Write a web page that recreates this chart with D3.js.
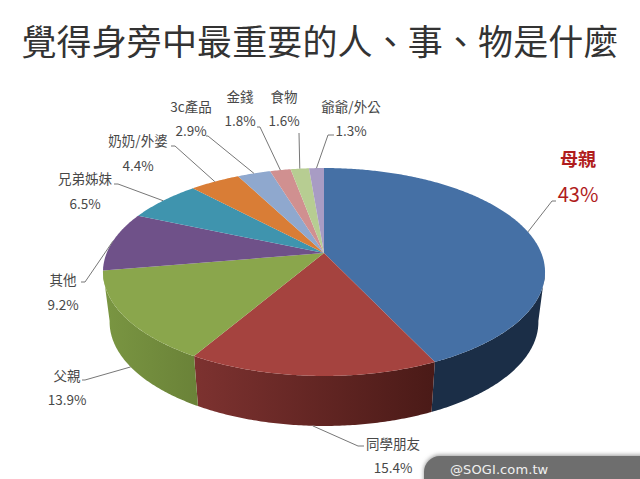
<!DOCTYPE html>
<html><head><meta charset="utf-8">
<script src="https://cdn.jsdelivr.net/npm/d3@7/dist/d3.min.js"></script>
<style>html,body{margin:0;padding:0;background:#fff;overflow:hidden}svg{display:block}
text{font-family:"Noto Sans CJK TC","Noto Sans",sans-serif}</style></head><body>
<svg id="c" width="640" height="479"></svg>
<script>
const titleText = "覺得身旁中最重要的人、事、物是什麼";
const categories = ["母親","同學朋友","父親","其他","兄弟姊妹","奶奶/外婆","3c產品","金錢","食物","爺爺/外公"];
const values = [43,15.4,13.9,9.2,6.5,4.4,2.9,1.8,1.6,1.3];
const valueLabels = ["43%","15.4%","13.9%","9.2%","6.5%","4.4%","2.9%","1.8%","1.6%","1.3%"];
const topColors = ["#4570a5","#a5433f","#8aa64c","#6f5189","#3f94ae","#d97d36","#8fa8ce","#d09090","#b7cd92","#a89cc4"];
const sideLeft = ["#1b2e47","#7d3230","#7a9642","#5a4470","#347a90","#b0652a","#7488a8","#a87474","#94a676","#887ea0"];
const sideRight = ["#1b2e47","#4a1a17","#6a8238","#5a4470","#347a90","#b0652a","#7488a8","#a87474","#94a676","#887ea0"];
// label layout: [centre x, name y, value y, elbow x, elbow y, tail x]
const labelLayout = [
 [578,160,195,552,201,556],[393,444,468,358,446,364],[67,376,400,85,380,82],[63,280,305,85,282,81],
 [85,179,204,118,184,114],[138,141,166,175,146,171],[191,107,131,208,136,206],[240,97,121,260,127,257],
 [284,97,121,299,133,299],[351,107,131,328,135,334]];

const svg = d3.select("#c");
const cx=324, cy=253, a=217.3, b=100.5, k=0.1827, depth=50, shrink=0.97;
function project(t){ // t: angle clockwise from top
  const u=Math.sin(t), v=-Math.cos(t), d=1-k*v;
  return [cx+a*u/d, cy+b*v/d];
}
function lower(t){const p=project(t);return [cx+(p[0]-cx)*shrink,p[1]+depth];}
function samples(s,e){const n=Math.max(2,Math.ceil((e-s)/0.01));return d3.range(n+1).map(i=>s+(e-s)*i/n);}
const line=d3.line();
const arcs=d3.pie().sort(null)(values);

const defs=svg.append("defs");
const f=defs.append("filter").attr("id","sh").attr("x","-10%").attr("y","-40%").attr("width","120%").attr("height","180%");
f.append("feGaussianBlur").attr("stdDeviation",2);
arcs.forEach((d,i)=>{
  const g=defs.append("linearGradient").attr("id","g"+i);
  g.append("stop").attr("offset",0).attr("stop-color",sideLeft[i]);
  g.append("stop").attr("offset",1).attr("stop-color",sideRight[i]);
});

svg.append("text").attr("x",320).attr("y",42).attr("dy",".36em").attr("text-anchor","middle")
  .attr("font-size",35).attr("textLength",597).attr("lengthAdjust","spacing").attr("fill","#333").text(titleText);

// side wall
const frontS=100*Math.PI/180, frontE=260*Math.PI/180;
arcs.forEach((d,i)=>{
  const s=Math.max(d.startAngle,frontS), e=Math.min(d.endAngle,frontE);
  if(e<=s) return;
  const ts=samples(s,e);
  const pts=ts.map(project).concat(ts.slice().reverse().map(lower));
  svg.append("path").attr("d",line(pts)+"Z").attr("fill",`url(#g${i})`);
});
// top face
arcs.forEach((d,i)=>{
  const pts=[[cx,cy]].concat(samples(d.startAngle,d.endAngle).map(project));
  svg.append("path").attr("d",line(pts)+"Z").attr("fill",topColors[i]);
});
// leaders and labels
arcs.forEach((d,i)=>{
  const mid=(d.startAngle+d.endAngle)/2, L=labelLayout[i];
  const front=mid>frontS&&mid<frontE&&i>0;
  const anchor=front?lower(mid):project(mid);
  svg.append("path").attr("d",line([anchor,[L[3],L[4]],[L[5],L[4]]])).attr("fill","none").attr("stroke","#777").attr("stroke-width",1);
  const hot=i===0;
  svg.append("text").attr("x",L[0]).attr("y",L[1]).attr("dy",".36em").attr("text-anchor","middle")
    .attr("font-size",hot?18:13.5).attr("font-weight",hot?700:400).attr("fill",hot?"#b01c1c":"#484848").text(categories[i]);
  svg.append("text").attr("x",L[0]).attr("y",L[2]).attr("dy",".36em").attr("text-anchor","middle")
    .attr("font-size",hot?20:13.5).attr("font-weight",400).attr("fill",hot?"#b01c1c":"#484848").text(valueLabels[i]);
});
// footer tag
svg.append("rect").attr("x",424).attr("y",455).attr("width",240).attr("height",50).attr("rx",16).attr("fill","#999").attr("filter","url(#sh)");
svg.append("rect").attr("x",424).attr("y",456).attr("width",240).attr("height",50).attr("rx",16).attr("fill","#6e6e6e");
svg.append("text").attr("x",450).attr("y",469).attr("dy",".36em").attr("font-size",13).attr("letter-spacing",.1)
  .style("font-family","'DejaVu Sans'").attr("fill","#f0f0f0").text("@SOGI.com.tw");
</script></body></html>
